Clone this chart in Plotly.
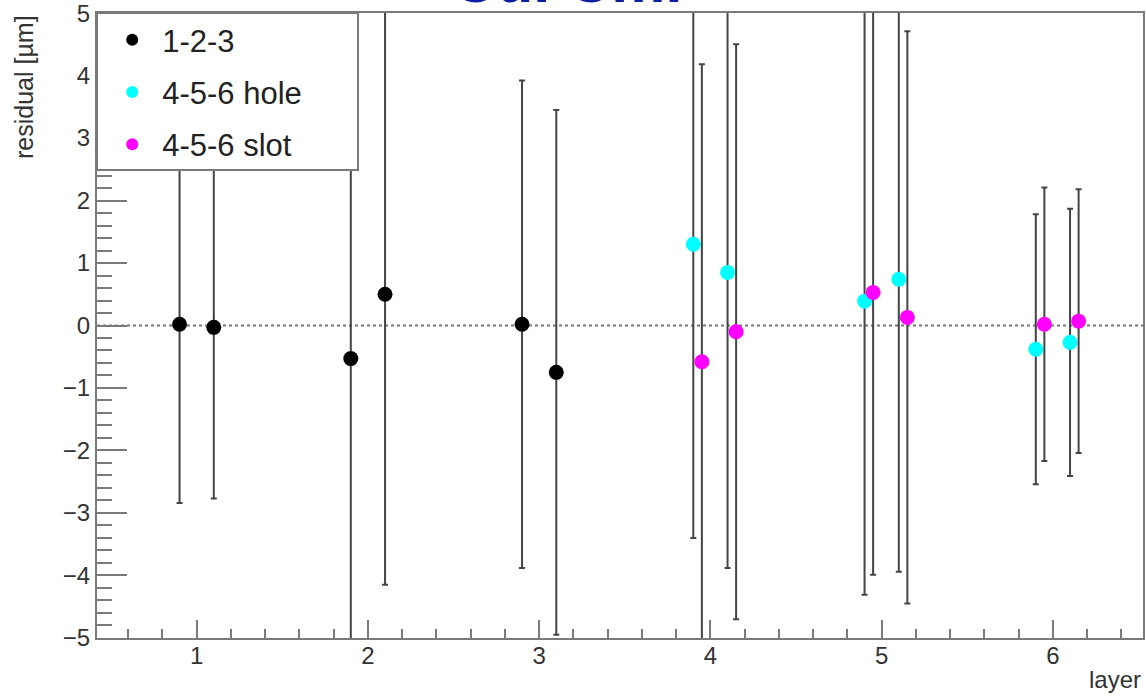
import plotly.graph_objects as go

# ---- data ----
layer_123 = [0.9, 1.1, 1.9, 2.1, 2.9, 3.1]
resid_123 = [0.02, -0.03, -0.53, 0.50, 0.02, -0.75]
err_123 = [2.86, 2.74, 6.0, 4.65, 3.9, 4.2]

layer_hole = [3.9, 4.1, 4.9, 5.1, 5.9, 6.1]
resid_hole = [1.30, 0.85, 0.39, 0.74, -0.38, -0.27]
err_hole = [4.7, 4.73, 4.7, 4.68, 2.16, 2.14]

layer_slot = [3.95, 4.15, 4.95, 5.15, 5.95, 6.15]
resid_slot = [-0.58, -0.10, 0.53, 0.13, 0.02, 0.07]
err_slot = [4.76, 4.6, 4.52, 4.58, 2.19, 2.11]

series_names = ["1-2-3", "4-5-6 hole", "4-5-6 slot"]
series_colors = ["#000000", "#00ffff", "#ff00ff"]
x_ticks = [1, 2, 3, 4, 5, 6]
y_ticks = [-5, -4, -3, -2, -1, 0, 1, 2, 3, 4, 5]

W, H = 1146, 698
L, R, T, B = 97, 3, 13, 60
PW = W - L - R
PH = H - T - B

FONT = "Liberation Sans, Arial, Helvetica, sans-serif"
AX = "#7a7a7a"
ERR = "#444444"

fig = go.Figure()
for i, (xs, ys, es) in enumerate([(layer_123, resid_123, err_123),
                                  (layer_hole, resid_hole, err_hole),
                                  (layer_slot, resid_slot, err_slot)]):
    fig.add_trace(go.Scatter(
        x=xs, y=ys, mode="markers", name=series_names[i],
        legendgroup=series_names[i],
        marker=dict(color=series_colors[i], size=15, symbol="circle"),
        error_y=dict(type="data", array=es, visible=True, color=ERR,
                     thickness=2, width=3),
        cliponaxis=True,
    ))

# dotted zero line
fig.add_shape(type="line", xref="paper", yref="y", x0=0, x1=1, y0=0, y1=0,
              line=dict(color="#777777", width=2, dash="dot"), layer="below")

# legend box (white fill covering the error bars, as in the reference)
fig.add_shape(type="rect", xref="paper", yref="paper",
              x0=0, x1=(358 - L) / PW, y0=1, y1=1 - (170 - T) / PH,
              fillcolor="white", line=dict(color=AX, width=2), layer="above")

fig.update_layout(
    template="none",
    width=W, height=H,
    margin=dict(l=L, r=R, t=T, b=B, pad=0, autoexpand=False),
    paper_bgcolor="white", plot_bgcolor="white",
    font=dict(family=FONT, color="#333333", size=24),
    showlegend=True,
    legend=dict(x=0.005, y=1.0, xanchor="left", yanchor="top",
                bgcolor="rgba(0,0,0,0)", borderwidth=0,
                font=dict(size=31, color="#222222", family=FONT),
                traceorder="grouped", tracegroupgap=9,
                itemwidth=50, itemsizing="constant"),
    xaxis=dict(range=[0.418, 6.526], tickvals=x_ticks, automargin=False,
               ticks="inside", ticklen=18, tickwidth=2, tickcolor=AX,
               showline=True, linecolor=AX, linewidth=2, mirror=True,
               showgrid=False, zeroline=False,
               ticklabelstandoff=-5, ticklabeloverflow="allow",
               tickfont=dict(size=24, color="#333333"),
               minor=dict(dtick=0.2, tick0=0, ticks="inside", ticklen=9,
                          tickwidth=2, tickcolor=AX, showgrid=False)),
    yaxis=dict(range=[-5.002, 5.002], tickvals=y_ticks, automargin=False,
               ticks="inside", ticklen=30, tickwidth=2, tickcolor=AX,
               showline=True, linecolor=AX, linewidth=2, mirror=True,
               showgrid=False, zeroline=False,
               ticklabelstandoff=0, ticklabeloverflow="allow",
               tickfont=dict(size=24, color="#333333"),
               minor=dict(dtick=0.2, tick0=0, ticks="inside", ticklen=15,
                          tickwidth=2, tickcolor=AX, showgrid=False)),
)

# axis titles (ROOT-style placement)
fig.add_annotation(text="residual [µm]", xref="paper", yref="paper",
                   x=0, y=1, xanchor="center", yanchor="top",
                   xshift=-(L - 24), textangle=-90, showarrow=False,
                   font=dict(size=25, color="#333333", family=FONT))
fig.add_annotation(text="layer", xref="paper", yref="paper",
                   x=1, y=0, xanchor="right", yanchor="middle",
                   yshift=-41, showarrow=False,
                   font=dict(size=24, color="#333333", family=FONT))

# partially cut-off blue heading at the top edge
fig.add_annotation(text="<b>Cu. Cm.</b>", xref="paper", yref="paper",
                   x=(567 - L) / PW, y=1, xanchor="center", yanchor="bottom",
                   yshift=-4, showarrow=False,
                   font=dict(size=61, color="#0b1fa0", family=FONT))

fig.write_html("out.html",
               config={"displayModeBar": False},
               post_script="document.body.style.margin='0';"
                           "document.body.style.overflow='hidden';")
